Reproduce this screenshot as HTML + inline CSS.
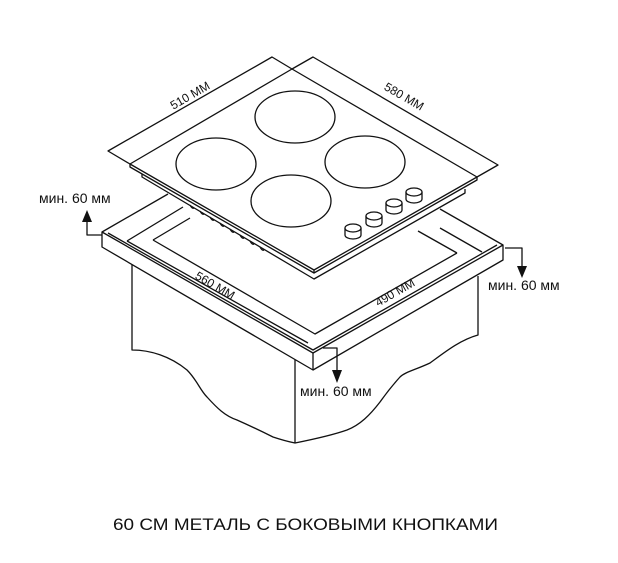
<!DOCTYPE html>
<html><head><meta charset="utf-8"><style>
html,body{margin:0;padding:0;background:#fff;}
svg{display:block;}
text{font-family:"Liberation Sans",sans-serif;fill:#111;}
</style></head><body>
<svg width="618" height="563" viewBox="0 0 618 563" xmlns="http://www.w3.org/2000/svg">
<g fill="none" stroke="#111" stroke-width="1.3" stroke-linejoin="round">
<path d="M132 264 L132 350 C150 350 170 356 187 370 C197 380 200 390 207 397 C217 408 225 416 237 420 C255 428 265 433 273 437 C282 440 290 442 295 443 L295 359"/>
<path d="M478 276 L478 335 C460 340 445 352 430 363 C415 370 405 372 400 377 C390 388 385 395 380 402 C370 415 360 425 347 430 C330 436 310 440 295 443"/>
<path d="M102 232 L313 353 L503 245 L503 260 L313 370 L102 247 Z" fill="#fff"/>
<path d="M313 353 L313 370"/>
<path d="M102 232 L168 194"/>
<path d="M503 245 L440 209"/>
<path d="M108 233 L313 350 L497 245"/>
<path d="M127 241 L183 207"/>
<path d="M127 241 L308 343"/>
<path d="M153 240 L190 218"/>
<path d="M153 240 L315 334 L457 253"/>
<path d="M457 253 L418 231"/>
<path d="M482 252 L440 228"/>
<path d="M142 174 L142 177 L314 279 L465 193 L465 189"/>
<path d="M130 164 L292 69 L477 177 L314 270 Z" fill="#fff"/>
<path d="M130 164 L130 167 L314 273 L477 180 L477 177"/>
<path d="M314 270 L314 273"/>
<path d="M190 205 q2 4 4 3 M200 211 q2 4 4 3 M210 217 q2 4 4 3 M220 223 q2 4 4 3 M230 229 q2 4 4 3 M240 235 q2 4 4 3 M250 241 q2 4 4 3 M260 247 q2 4 4 3"/>
<ellipse cx="295" cy="117" rx="40" ry="26"/>
<ellipse cx="216" cy="164" rx="40" ry="26"/>
<ellipse cx="365" cy="162" rx="40" ry="26"/>
<ellipse cx="291" cy="201" rx="40" ry="26"/>
<g fill="#fff">
<path d="M345 228 v7 a8 4 0 0 0 16 0 v-7"/><ellipse cx="353" cy="228" rx="8" ry="4"/>
<path d="M366 216 v7 a8 4 0 0 0 16 0 v-7"/><ellipse cx="374" cy="216" rx="8" ry="4"/>
<path d="M386 203 v7 a8 4 0 0 0 16 0 v-7"/><ellipse cx="394" cy="203" rx="8" ry="4"/>
<path d="M406 192 v7 a8 4 0 0 0 16 0 v-7"/><ellipse cx="414" cy="192" rx="8" ry="4"/>
</g>
<path d="M130 164 L108 151 L272 57 L292 69 L313 57 L498 165 L477 177"/>
<path d="M102 235 L87 235 L87 220"/>
<path d="M505 248 L522 248 L522 268"/>
<path d="M323 348 L337 348 L337 372"/>
</g>
<g fill="#111">
<path d="M82 222 L87 210 L92 222 Z"/>
<path d="M517 266 L522 278 L527 266 Z"/>
<path d="M332 370 L337 383 L342 370 Z"/>
</g>
<g font-size="12">
<text transform="translate(192,99) rotate(-30)" text-anchor="middle">510 ММ</text>
<text transform="translate(402,100) rotate(30)" text-anchor="middle">580 ММ</text>
<text transform="translate(213,289) rotate(30)" text-anchor="middle">560 ММ</text>
<text transform="translate(397,296) rotate(-30)" text-anchor="middle">490 ММ</text>
</g>
<g font-size="14">
<text x="39" y="203">мин. 60 мм</text>
<text x="488" y="290">мин. 60 мм</text>
<text x="300" y="396">мин. 60 мм</text>
</g>
<text x="113" y="530" font-size="16.5" textLength="385" lengthAdjust="spacingAndGlyphs">60 СМ МЕТАЛЬ С БОКОВЫМИ КНОПКАМИ</text>
</svg>
</body></html>
